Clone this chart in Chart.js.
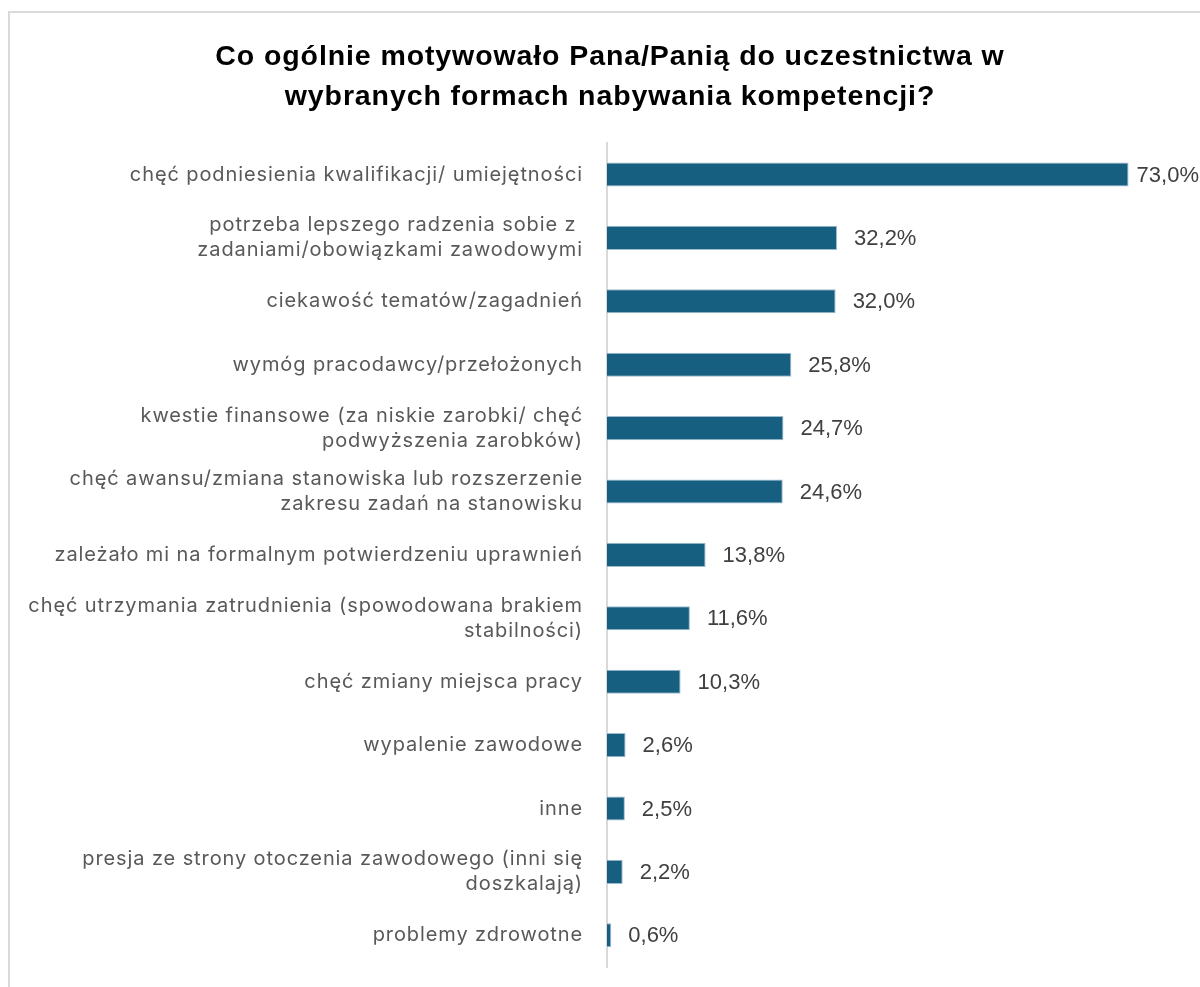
<!DOCTYPE html>
<html lang="pl">
<head>
<meta charset="utf-8">
<title>Motywacja do uczestnictwa</title>
<script src="https://cdn.jsdelivr.net/npm/chart.js@4.4.1/dist/chart.umd.min.js"></script>
<style>
	html, body { margin: 0; padding: 0; background: #fff; overflow: hidden; }
	#frame {
		position: absolute; left: 8px; top: 11px;
		width: 1210px; height: 1000px;
		border: 2px solid #d9d9d9; box-sizing: border-box;
	}
	#wrap { position: absolute; left: 0; top: 0; width: 1200px; height: 987px; }
</style>
</head>
<body>
<div id="frame"></div>
<div id="wrap"><canvas id="chart"></canvas></div>
<script>
// Dane
const categories = [
	'chęć podniesienia kwalifikacji/ umiejętności',
	['potrzeba lepszego radzenia sobie z ', 'zadaniami/obowiązkami zawodowymi'],
	'ciekawość tematów/zagadnień',
	'wymóg pracodawcy/przełożonych',
	['kwestie finansowe (za niskie zarobki/ chęć', 'podwyższenia zarobków)'],
	['chęć awansu/zmiana stanowiska lub rozszerzenie', 'zakresu zadań na stanowisku'],
	'zależało mi na formalnym potwierdzeniu uprawnień',
	['chęć utrzymania zatrudnienia (spowodowana brakiem', 'stabilności)'],
	'chęć zmiany miejsca pracy',
	'wypalenie zawodowe',
	'inne',
	['presja ze strony otoczenia zawodowego (inni się', 'doszkalają)'],
	'problemy zdrowotne'
];
const values = [73.0, 32.2, 32.0, 25.8, 24.7, 24.6, 13.8, 11.6, 10.3, 2.6, 2.5, 2.2, 0.6];
const titleLines = [
	'Co ogólnie motywowało Pana/Panią do uczestnictwa w',
	'wybranych formach nabywania kompetencji?'
];

const fmt = v => v.toFixed(1).replace('.', ',') + '%';

// Lekko rozstrzelony tekst (tytuł i etykiety osi)
const tracking = {
	id: 'tracking',
	beforeLayout(chart) { chart.ctx.letterSpacing = '0.9px'; },
	beforeDraw(chart) { chart.ctx.letterSpacing = '0.9px'; }
};

// Etykiety wartości za końcem słupka
const valueLabels = {
	id: 'valueLabels',
	afterDatasetsDraw(chart) {
		const ctx = chart.ctx;
		const meta = chart.getDatasetMeta(0);
		ctx.save();
		ctx.font = '22px "Liberation Sans", Arial, sans-serif';
		ctx.letterSpacing = '0px';
		ctx.fillStyle = '#404040';
		ctx.textBaseline = 'middle';
		meta.data.forEach((bar, i) => {
			const txt = fmt(values[i]);
			const w = ctx.measureText(txt).width;
			let x = bar.x + 17;
			if (x + w > chart.width - 1) x = chart.width - 1 - w;
			ctx.fillText(txt, x, bar.y + 1);
		});
		ctx.restore();
	}
};

new Chart(document.getElementById('chart'), {
	type: 'bar',
	data: {
		labels: categories,
		datasets: [{
			data: values,
			backgroundColor: '#175f80',
			borderColor: '#9fbccd',
			borderWidth: 1,
			borderSkipped: 'start',
			categoryPercentage: 1,
			barPercentage: 0.38
		}]
	},
	options: {
		indexAxis: 'y',
		responsive: true,
		maintainAspectRatio: false,
		animation: false,
		layout: { padding: { left: 20, right: 0, top: 37, bottom: 20 } },
		plugins: {
			legend: { display: false },
			tooltip: { enabled: false },
			title: {
				display: true,
				text: titleLines,
				color: '#000',
				font: { family: '"Liberation Sans", Arial, sans-serif', size: 28.5, weight: 'bold', lineHeight: 1.4 },
				padding: { top: 0, bottom: 26 }
			}
		},
		scales: {
			x: {
				display: false,
				min: 0,
				max: 83
			},
			y: {
				// stała szerokość kolumny etykiet, bez dodatkowego marginesu pionowego
				afterFit: s => {
					s.width = 587;
					s.paddingTop = 0;
					s.paddingBottom = 0;
				},
				grid: { display: false, drawTicks: false },
				border: { display: true, color: '#d9d9d9', width: 2 },
				ticks: {
					padding: 24,
					color: '#595959',
					font: { family: 'Inter, sans-serif', size: 20, lineHeight: 1.25 },
					autoSkip: false
				}
			}
		}
	},
	plugins: [tracking, valueLabels]
});
</script>
</body>
</html>
